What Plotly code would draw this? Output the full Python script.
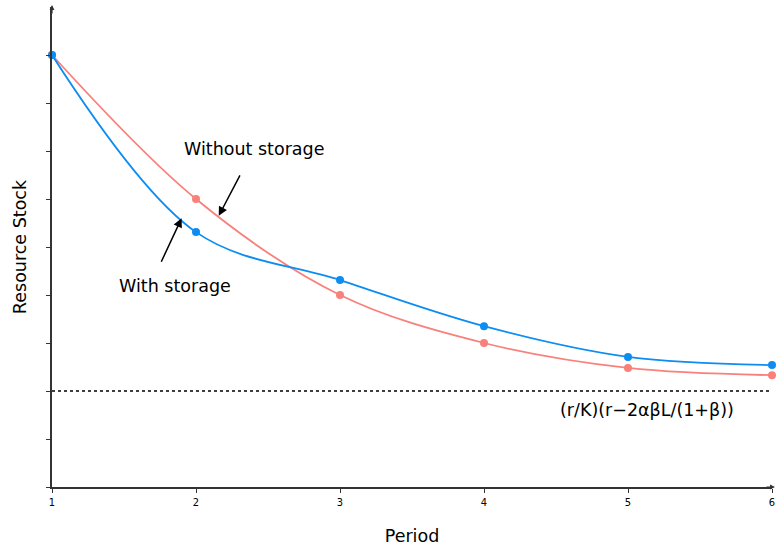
import plotly.graph_objects as go

periods = [1, 2, 3, 4, 5, 6]
without_storage = [9.0, 6.0, 4.0, 3.0, 2.48, 2.33]
with_storage = [9.0, 5.31, 4.31, 3.35, 2.71, 2.54]
steady_state = 2.0
y_ticks = [0, 1, 2, 3, 4, 5, 6, 7, 8, 9]

RED = "#f9807b"
BLUE = "#0d8df2"
FONT = "DejaVu Sans"

fig = go.Figure()

fig.add_trace(go.Scatter(
    x=[periods[0], periods[-1]], y=[steady_state, steady_state],
    mode="lines", line=dict(color="black", width=1.5, dash="dot"),
    hoverinfo="skip", showlegend=False))

fig.add_trace(go.Scatter(
    x=periods, y=without_storage, mode="lines+markers",
    line=dict(color=RED, width=1.8, shape="spline", smoothing=1.0),
    marker=dict(color=RED, size=8), cliponaxis=False, showlegend=False))

fig.add_trace(go.Scatter(
    x=periods, y=with_storage, mode="lines+markers",
    line=dict(color=BLUE, width=1.8, shape="spline", smoothing=1.0),
    marker=dict(color=BLUE, size=8), cliponaxis=False, showlegend=False))

annotations = [
    # arrows
    dict(x=2.158, y=5.65, ax=22, ay=-42, text="", showarrow=True,
         arrowhead=2, arrowsize=1.2, arrowwidth=1.5, arrowcolor="black"),
    dict(x=1.90, y=5.60, ax=-21, ay=45, text="", showarrow=True,
         arrowhead=2, arrowsize=1.2, arrowwidth=1.5, arrowcolor="black"),
    # labels
    dict(x=2.40, y=7.04, text="Without storage", showarrow=False,
         font=dict(family=FONT, size=17.5, color="black")),
    dict(x=1.853, y=4.19, text="With storage", showarrow=False,
         font=dict(family=FONT, size=17.5, color="black")),
    dict(x=5.133, y=1.60, text="(r/K)(r\u22122\u03b1\u03b2L/(1+\u03b2))", showarrow=False,
         font=dict(family=FONT, size=17.5, color="black")),
    # axis arrowheads
    dict(xref="paper", yref="paper", x=1.004, y=0, ax=-10, ay=0, text="",
         showarrow=True, arrowhead=2, arrowsize=0.8, arrowwidth=1.2, arrowcolor="#333"),
    dict(xref="paper", yref="paper", x=0, y=1.004, ax=0, ay=10, text="",
         showarrow=True, arrowhead=2, arrowsize=0.8, arrowwidth=1.2, arrowcolor="#333"),
]

fig.update_layout(
    width=776, height=548,
    margin=dict(l=52, r=4, t=7, b=61, autoexpand=False),
    plot_bgcolor="white", paper_bgcolor="white",
    annotations=annotations,
    font=dict(family=FONT, color="black"),
    xaxis=dict(range=[1, 6], tickvals=periods, ticktext=[str(p) for p in periods],
               automargin=False,
               showgrid=False, zeroline=False, showline=True, linecolor="#333", linewidth=1.5,
               ticks="outside", ticklen=4, tickcolor="#333",
               tickfont=dict(family="DejaVu Sans Condensed", size=11, color="black"),
               title=dict(text="Period", font=dict(family=FONT, size=17.5), standoff=22)),
    yaxis=dict(range=[0, 10], tickvals=y_ticks, showticklabels=False, automargin=False,
               showgrid=False, zeroline=False, showline=True, linecolor="#333", linewidth=1.5,
               ticks="outside", ticklen=4, tickcolor="#333",
               title=dict(text="Resource Stock", font=dict(family=FONT, size=17.5), standoff=15)),
)

fig.write_html("out.html")
